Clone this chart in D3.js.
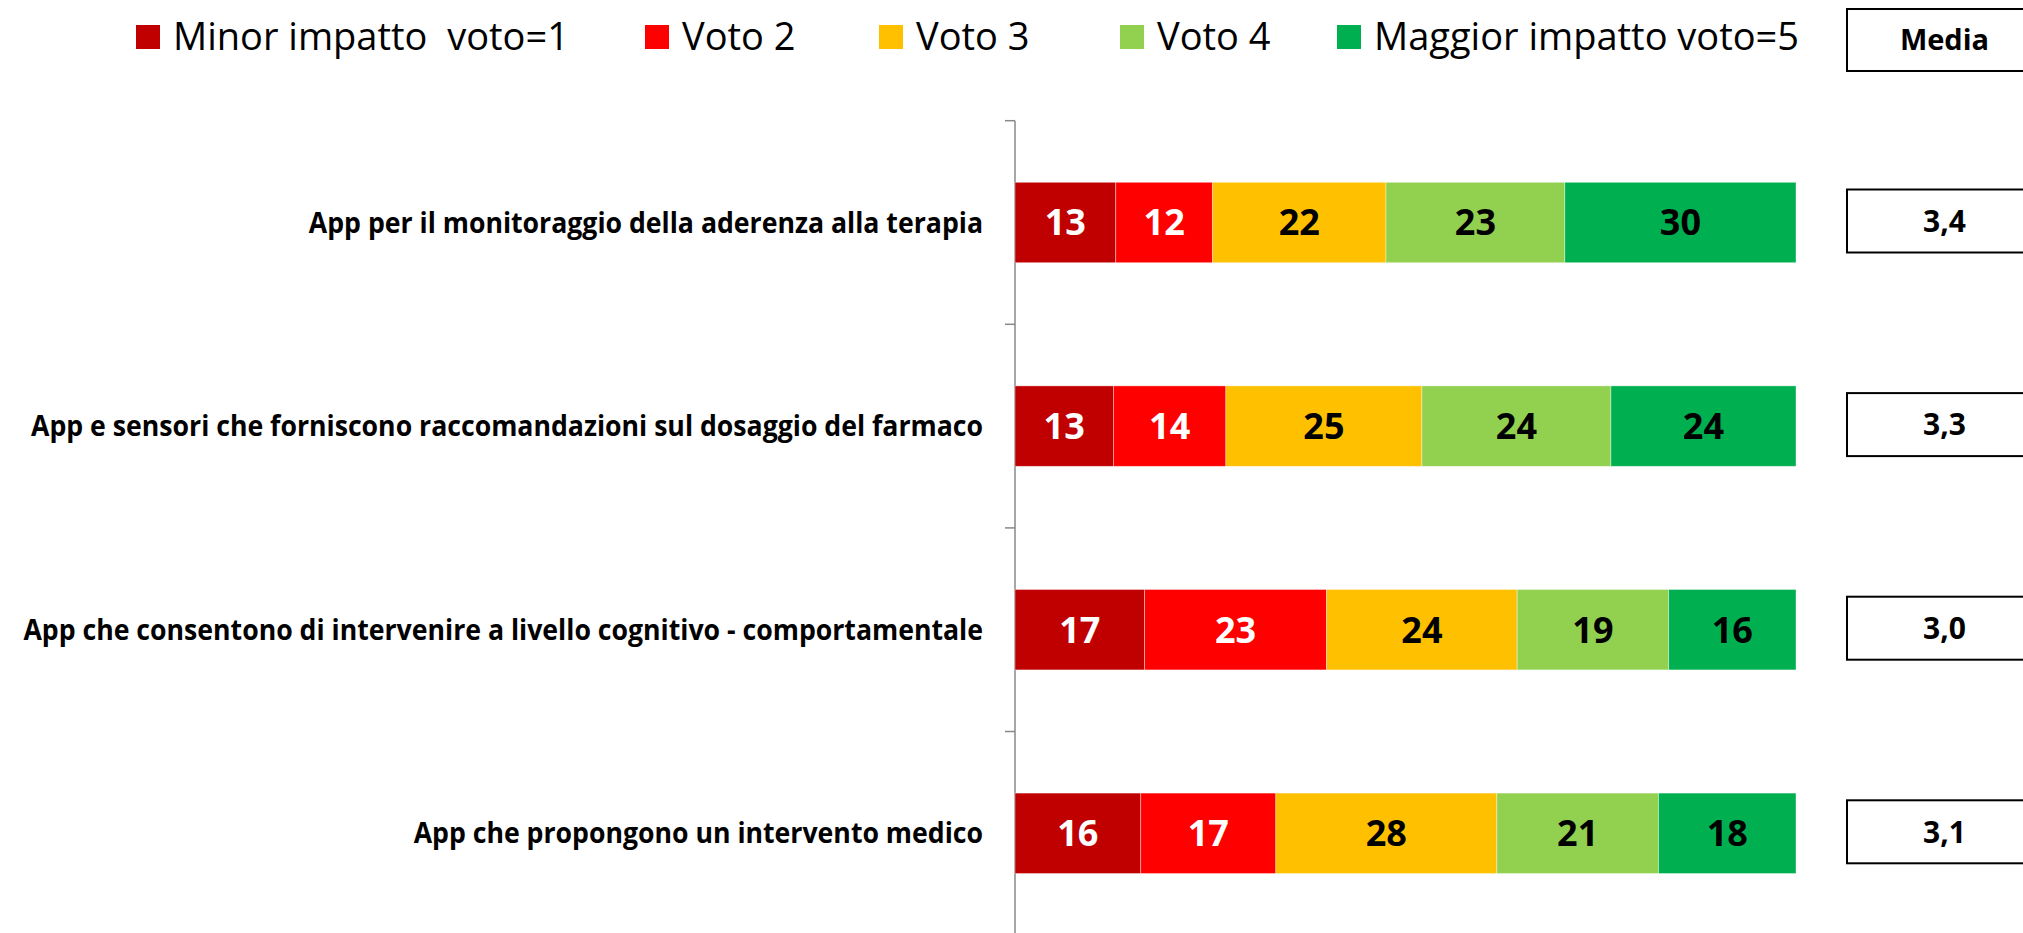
<!DOCTYPE html>
<html>
<head>
  <title>Impatto delle App</title>
  <script src="https://d3js.org/d3.v7.min.js"></script>
  <style>
    body { margin: 0; background: #fff; }
    text { font-family: "Open Sans", "Noto Sans", sans-serif; }
    .legend text { white-space: pre; }
  </style>
</head>
<body>
  <div id="chart"></div>
  <script>
    // categories (top to bottom)
    const categories = [
      "App per il monitoraggio della aderenza alla terapia",
      "App e sensori che forniscono raccomandazioni sul dosaggio del farmaco",
      "App che consentono di intervenire a livello cognitivo - comportamentale ",
      "App che propongono un intervento medico"
    ];

    const seriesNames = ["Minor impatto  voto=1", "Voto 2", "Voto 3", "Voto 4", "Maggior impatto voto=5"];

    // percentages (labels show them rounded)
    const voto1 = [12.9, 12.6, 16.6, 16.1];
    const voto2 = [12.4, 14.4, 23.3, 17.3];
    const voto3 = [22.2, 25.1, 24.4, 28.3];
    const voto4 = [22.9, 24.2, 19.4, 20.7];
    const voto5 = [29.6, 23.7, 16.3, 17.6];

    const media = [3.4, 3.3, 3.0, 3.1];

    const colors = ["#C00000", "#FF0000", "#FFC000", "#92D050", "#00B050"];
    const labelColors = ["#fff", "#fff", "#000", "#000", "#000"];

    const width = 2023;
    const height = 933;

    const svg = d3.select("#chart")
      .append("svg")
      .attr("width", width)
      .attr("height", height);

    const series = [voto1, voto2, voto3, voto4, voto5];

    // stack data
    const rows = categories.map((c, i) => {
      const r = { cat: c };
      seriesNames.forEach((s, j) => r[s] = series[j][i]);
      return r;
    });
    const stacked = d3.stack().keys(seriesNames)(rows);

    const xScale = d3.scaleLinear()
      .domain([0, 100])
      .range([1015, 1796]);

    const yScale = d3.scaleBand()
      .domain(categories)
      .range([120.7, 120.7 + 4 * 203.6])
      .paddingInner(0.605)
      .paddingOuter(0.3025);

    // axis line + ticks at slot boundaries
    const axisG = svg.append("g");
    axisG.append("line")
      .attr("x1", xScale(0)).attr("x2", xScale(0))
      .attr("y1", yScale.range()[0]).attr("y2", yScale.range()[1])
      .attr("stroke", "#888").attr("stroke-width", 1.5);
    axisG.selectAll(".tick")
      .data(d3.range(categories.length + 1))
      .join("line")
      .attr("x1", xScale(0) - 10).attr("x2", xScale(0))
      .attr("y1", i => yScale.range()[0] + i * yScale.step())
      .attr("y2", i => yScale.range()[0] + i * yScale.step())
      .attr("stroke", "#888").attr("stroke-width", 1.5);

    // bars
    const layers = svg.selectAll(".layer")
      .data(stacked)
      .join("g")
      .attr("fill", (d, i) => colors[i]);

    layers.selectAll("rect")
      .data(d => d)
      .join("rect")
      .attr("x", d => xScale(d[0]))
      .attr("width", d => xScale(d[1]) - xScale(d[0]))
      .attr("y", d => yScale(d.data.cat))
      .attr("height", yScale.bandwidth())
      .attr("stroke", "#fff")
      .attr("stroke-opacity", 0.5)
      .attr("stroke-width", 0.75);

    // bar labels
    stacked.forEach((layer, i) => {
      svg.append("g").selectAll("text")
        .data(layer)
        .join("text")
        .attr("x", d => (xScale(d[0]) + xScale(d[1])) / 2)
        .attr("y", d => yScale(d.data.cat) + yScale.bandwidth() / 2)
        .attr("dy", "0.36em")
        .attr("text-anchor", "middle")
        .attr("font-size", 36)
        .attr("font-weight", "bold")
        .attr("fill", labelColors[i])
        .text(d => Math.round(d[1] - d[0]));
    });

    // category labels, squeezed horizontally like a narrow font
    const catG = svg.append("g");
    const catTexts = catG.selectAll("text")
      .data(categories)
      .join("text")
      .attr("text-anchor", "end")
      .attr("dy", "0.36em")
      .attr("font-size", 28)
      .attr("font-weight", "bold")
      .attr("fill", "#000")
      .text(d => d);
    const widest = d3.max(catTexts.nodes(), n => n.getComputedTextLength());
    const squeeze = 960 / widest;
    catTexts.attr("transform", d => `translate(983, ${yScale(d) + yScale.bandwidth() / 2}) scale(${squeeze}, 1)`);

    // Media column
    const fmt = d3.formatLocale({ decimal: ",", thousands: ".", grouping: [3], currency: ["", "€"] }).format(".1f");
    const boxX = 1847, boxW = 195, boxH = 63;

    svg.append("rect")
      .attr("x", boxX).attr("y", 9).attr("width", boxW).attr("height", boxH - 1)
      .attr("fill", "#fff").attr("stroke", "#000").attr("stroke-width", 2);
    svg.append("text")
      .attr("x", boxX + boxW / 2).attr("y", 40).attr("dy", "0.36em")
      .attr("text-anchor", "middle")
      .attr("font-size", 29).attr("font-weight", "bold")
      .text("Media");

    const mediaG = svg.append("g").selectAll("g")
      .data(media)
      .join("g")
      .attr("transform", (d, i) => `translate(${boxX}, ${yScale(categories[i]) + yScale.bandwidth() / 2 - 1.5})`);
    mediaG.append("rect")
      .attr("y", -boxH / 2).attr("width", boxW).attr("height", boxH)
      .attr("fill", "#fff").attr("stroke", "#000").attr("stroke-width", 2);
    mediaG.append("text")
      .attr("x", boxW / 2).attr("dy", "0.36em")
      .attr("text-anchor", "middle")
      .attr("font-size", 30).attr("font-weight", "bold")
      .text(d => fmt(d));

    // legend
    const legendX = [136, 645, 879, 1120, 1337];
    const legend = svg.append("g").attr("class", "legend")
      .selectAll("g")
      .data(seriesNames)
      .join("g")
      .attr("transform", (d, i) => `translate(${legendX[i]}, 25)`);
    legend.append("rect")
      .attr("width", 24).attr("height", 24)
      .attr("fill", (d, i) => colors[i]);
    legend.append("text")
      .attr("x", 37).attr("y", 25)
      .attr("font-size", 38)
      .attr("fill", "#000")
      .text(d => d);
  </script>
</body>
</html>
